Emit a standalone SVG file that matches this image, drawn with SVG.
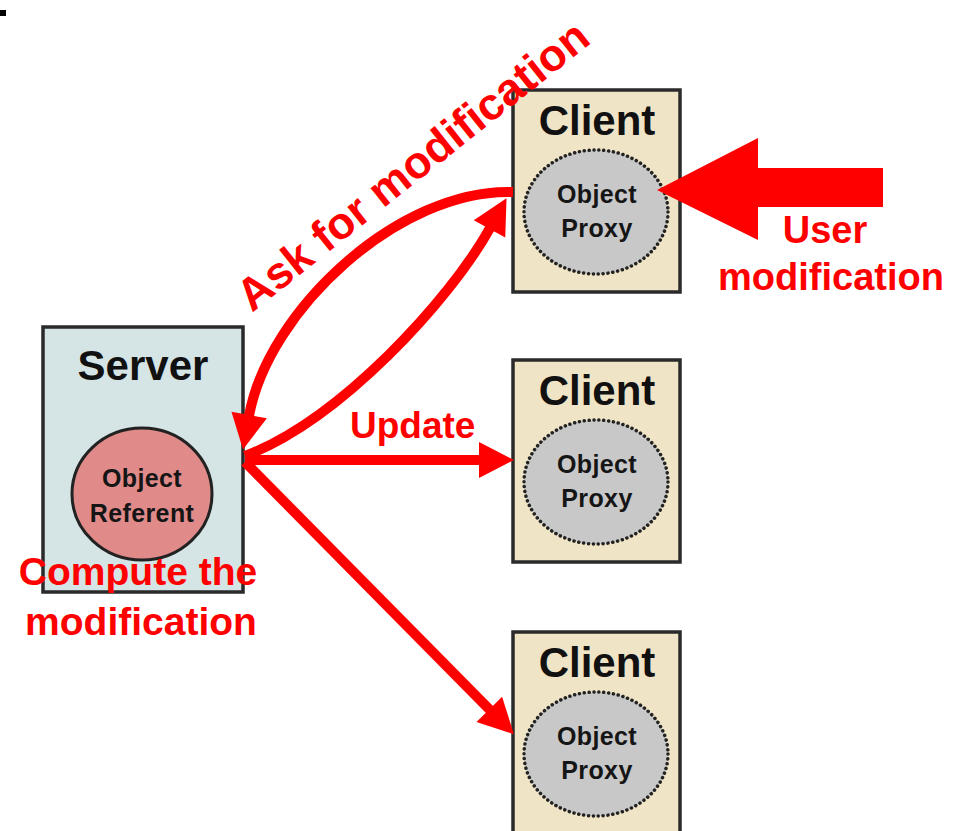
<svg xmlns="http://www.w3.org/2000/svg" width="953" height="831" viewBox="0 0 953 831">
<style>
.box{stroke:#2a2a2a;stroke-width:3.5}
.client{fill:#f0e4c6}
.server{fill:#d5e4e4}
.proxy{fill:#c8c8c8;stroke:#222;stroke-width:3.5;stroke-dasharray:0.1 4.8;stroke-linecap:round}
.referent{fill:#e08a8a;stroke:#222;stroke-width:3}
.title{font-family:"Liberation Sans",Arial,sans-serif;font-weight:bold;font-size:42px;fill:#111;text-anchor:middle}
.inner{font-family:"Liberation Sans",Arial,sans-serif;font-weight:bold;font-size:25px;fill:#151515;text-anchor:middle;letter-spacing:0.4px}
.lbl{font-family:"Liberation Sans",Arial,sans-serif;font-weight:bold;font-size:38px;fill:#ff0000}
.conn{fill:none;stroke:#ff0000;stroke-width:10}
</style>
<defs>
<marker id="ah" markerUnits="userSpaceOnUse" markerWidth="40" markerHeight="40" viewBox="0 -20 40 40" refX="0" refY="0" orient="auto" overflow="visible">
<path d="M-1,-18 L34,0 L-1,18 Z" fill="#ff0000"/>
</marker>
</defs>
<rect x="0" y="10" width="6" height="6" fill="#000"/>
<g id="server">
<rect class="box server" x="43" y="327" width="200" height="265"/>
<text class="title" x="143" y="380">Server</text>
<ellipse class="referent" cx="142" cy="494" rx="70" ry="66"/>
<text class="inner" x="142" y="487">Object</text>
<text class="inner" x="142" y="522">Referent</text>
</g>
<g id="client1">
<rect class="box client" x="513" y="90" width="167" height="202"/>
<text class="title" x="597" y="135">Client</text>
<ellipse class="proxy" cx="596" cy="212" rx="72" ry="62"/>
<text class="inner" x="597" y="203">Object</text>
<text class="inner" x="597" y="237">Proxy</text>
</g>
<g id="client2">
<rect class="box client" x="513" y="360" width="167" height="202"/>
<text class="title" x="597" y="405">Client</text>
<ellipse class="proxy" cx="596" cy="482" rx="72" ry="62"/>
<text class="inner" x="597" y="473">Object</text>
<text class="inner" x="597" y="507">Proxy</text>
</g>
<g id="client3">
<rect class="box client" x="513" y="632" width="167" height="210"/>
<text class="title" x="597" y="677">Client</text>
<ellipse class="proxy" cx="596" cy="754" rx="72" ry="62"/>
<text class="inner" x="597" y="745">Object</text>
<text class="inner" x="597" y="779">Proxy</text>
</g>
<g id="connectors">
<path class="conn" d="M513,192 C400,188 268,310 249,416" marker-end="url(#ah)"/>
<path class="conn" d="M245,456 C340,420 450,300 490,228" marker-end="url(#ah)"/>
<path class="conn" d="M245,460 L480,460" marker-end="url(#ah)"/>
<path class="conn" d="M245,462 L490,710" marker-end="url(#ah)"/>
<polygon id="user-arrow" points="657,190 758,138 758,168 883,168 883,207 758,207 758,240" fill="#ff0000"/>
</g>
<g id="labels">
<text class="lbl" x="252" y="313" transform="rotate(-38.5 252 313)" style="font-size:45px">Ask for modification</text>
<text class="lbl" x="350" y="438" style="font-size:37px">Update</text>
<text class="lbl" x="138" y="585" text-anchor="middle" style="font-size:39px">Compute the</text>
<text class="lbl" x="141" y="635" text-anchor="middle" style="font-size:39px">modification</text>
<text class="lbl" x="825" y="243" text-anchor="middle">User</text>
<text class="lbl" x="831" y="290" text-anchor="middle">modification</text>
</g>
</svg>
